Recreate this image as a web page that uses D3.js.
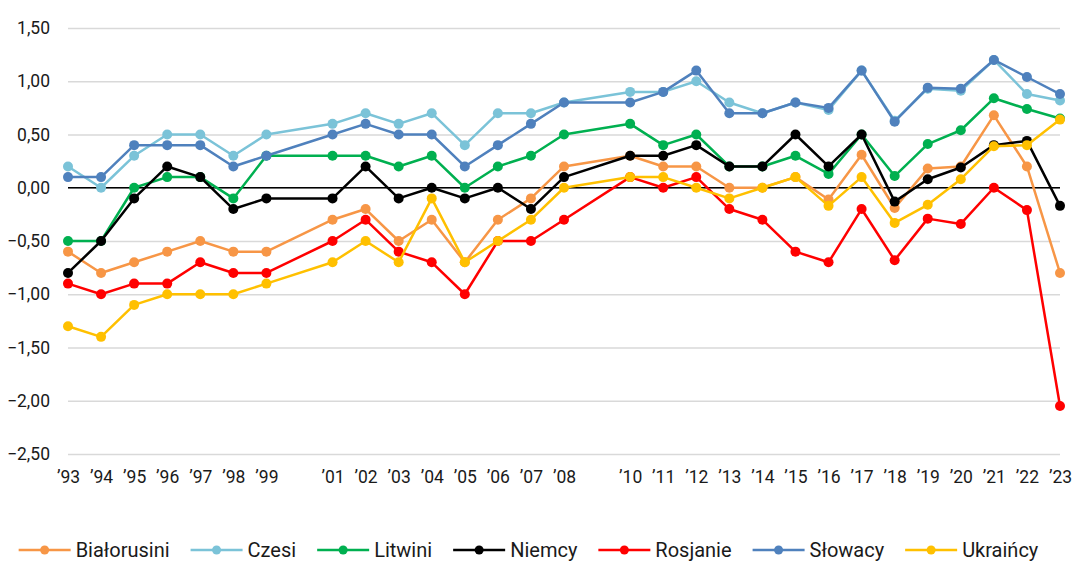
<!DOCTYPE html>
<html>
<head>
<meta charset="utf-8">
<script src="https://cdn.jsdelivr.net/npm/d3@7"></script>
<style>
  body { margin: 0; background: #fff; }
  text { font-family: Roboto, "Noto Sans", sans-serif; fill: #1a1a1a; }
</style>
</head>
<body>
<svg id="chart" width="1074" height="563"></svg>
<script>
// lata (bez 2000 i 2009)
const years = [1993, 1994, 1995, 1996, 1997, 1998, 1999, 2001, 2002, 2003, 2004, 2005, 2006, 2007, 2008,
    2010, 2011, 2012, 2013, 2014, 2015, 2016, 2017, 2018, 2019, 2020, 2021, 2022, 2023];

const bialorusini = [-0.6, -0.8, -0.7, -0.6, -0.5, -0.6, -0.6, -0.3, -0.2, -0.5, -0.3, -0.7, -0.3, -0.1, 0.2,
    0.3, 0.2, 0.2, 0.0, 0.0, 0.1, -0.11, 0.31, -0.19, 0.18, 0.2, 0.68, 0.2, -0.8];
const czesi = [0.2, 0.0, 0.3, 0.5, 0.5, 0.3, 0.5, 0.6, 0.7, 0.6, 0.7, 0.4, 0.7, 0.7, 0.8,
    0.9, 0.9, 1.0, 0.8, 0.7, 0.8, 0.73, 1.1, 0.63, 0.93, 0.91, 1.2, 0.88, 0.82];
const litwini = [-0.5, -0.5, 0.0, 0.1, 0.1, -0.1, 0.3, 0.3, 0.3, 0.2, 0.3, 0.0, 0.2, 0.3, 0.5,
    0.6, 0.4, 0.5, 0.2, 0.2, 0.3, 0.13, 0.5, 0.11, 0.41, 0.54, 0.84, 0.74, 0.65];
const niemcy = [-0.8, -0.5, -0.1, 0.2, 0.1, -0.2, -0.1, -0.1, 0.2, -0.1, 0.0, -0.1, 0.0, -0.2, 0.1,
    0.3, 0.3, 0.4, 0.2, 0.2, 0.5, 0.2, 0.5, -0.13, 0.08, 0.19, 0.4, 0.44, -0.17];
const rosjanie = [-0.9, -1.0, -0.9, -0.9, -0.7, -0.8, -0.8, -0.5, -0.3, -0.6, -0.7, -1.0, -0.5, -0.5, -0.3,
    0.1, 0.0, 0.1, -0.2, -0.3, -0.6, -0.7, -0.2, -0.68, -0.29, -0.34, 0.0, -0.21, -2.05];
const slowacy = [0.1, 0.1, 0.4, 0.4, 0.4, 0.2, 0.3, 0.5, 0.6, 0.5, 0.5, 0.2, 0.4, 0.6, 0.8,
    0.8, 0.9, 1.1, 0.7, 0.7, 0.8, 0.75, 1.1, 0.62, 0.94, 0.93, 1.2, 1.04, 0.88];
const ukraincy = [-1.3, -1.4, -1.1, -1.0, -1.0, -1.0, -0.9, -0.7, -0.5, -0.7, -0.1, -0.7, -0.5, -0.3, 0.0,
    0.1, 0.1, 0.0, -0.1, 0.0, 0.1, -0.17, 0.1, -0.33, -0.16, 0.08, 0.39, 0.4, 0.64];

const seriesNames = ["Białorusini", "Czesi", "Litwini", "Niemcy", "Rosjanie", "Słowacy", "Ukraińcy"];
const seriesValues = [bialorusini, czesi, litwini, niemcy, rosjanie, slowacy, ukraincy];
const colors = ["#F79646", "#7BC3D8", "#00B050", "#000000", "#FF0000", "#4F81BD", "#FFC000"];
const yTicks = [-2.5, -2, -1.5, -1, -0.5, 0, 0.5, 1, 1.5];

const svg = d3.select("#chart");

let x = d3.scaleLinear().domain([1993, 2023]).range([68, 1060]);
let y = d3.scaleLinear().domain([-2.5, 1.5]).range([454, 28]);

// siatka + oś Y
svg.append("g")
    .attr("transform", "translate(68,0)")
    .call(d3.axisLeft(y).tickValues(yTicks).tickSize(-(1060 - 68)).tickPadding(18)
        .tickFormat((d) => d3.format(".2f")(d).replace(".", ",")))
    .call((g) => g.select(".domain").remove())
    .call((g) => g.selectAll(".tick line").attr("stroke", "#d9d9d9").attr("stroke-width", 1.5))
    .call((g) => g.selectAll(".tick text").attr("font-size", 17.5).attr("font-family", "Roboto").attr("fill", "#1a1a1a"));

// linia zera
svg.append("line")
    .attr("x1", 68).attr("x2", 1060)
    .attr("y1", y(0)).attr("y2", y(0))
    .attr("stroke", "#000").attr("stroke-width", 1.5);

// oś X
svg.append("g")
    .attr("transform", "translate(0,454)")
    .call(d3.axisBottom(x).tickValues(years).tickSize(0).tickPadding(17)
        .tickFormat((d) => "\u2019" + String(d).slice(2)))
    .call((g) => g.select(".domain").remove())
    .call((g) => g.selectAll(".tick text").attr("font-size", 17.5).attr("font-family", "Roboto").attr("fill", "#1a1a1a"));

const line = d3.line().x((d) => x(d[0])).y((d) => y(d[1]));

seriesValues.forEach((vals, i) => {
    const pts = years.map((yr, j) => [yr, vals[j]]);
    const g = svg.append("g");
    g.append("path")
        .attr("d", line(pts))
        .attr("fill", "none")
        .attr("stroke", colors[i])
        .attr("stroke-width", 2.5)
        .attr("stroke-linejoin", "round");
    g.selectAll("circle")
        .data(pts)
        .enter()
        .append("circle")
        .attr("cx", (d) => x(d[0]))
        .attr("cy", (d) => y(d[1]))
        .attr("r", 5)
        .attr("fill", colors[i]);
});

// legenda
const legend = svg.append("g");
let lx = 0;
seriesNames.forEach((name, i) => {
    const item = legend.append("g").attr("transform", `translate(${lx},0)`);
    item.append("line")
        .attr("x1", 0).attr("x2", 52)
        .attr("stroke", colors[i]).attr("stroke-width", 2.5);
    item.append("circle").attr("cx", 26).attr("r", 4.5).attr("fill", colors[i]);
    const t = item.append("text")
        .attr("x", 57).attr("dy", "0.35em")
        .attr("font-size", 20)
        .text(name);
    lx += 57 + t.node().getComputedTextLength() + 21;
});
lx -= 21;
legend.attr("transform", `translate(${(1057 - lx) / 2},550)`);
</script>
</body>
</html>
